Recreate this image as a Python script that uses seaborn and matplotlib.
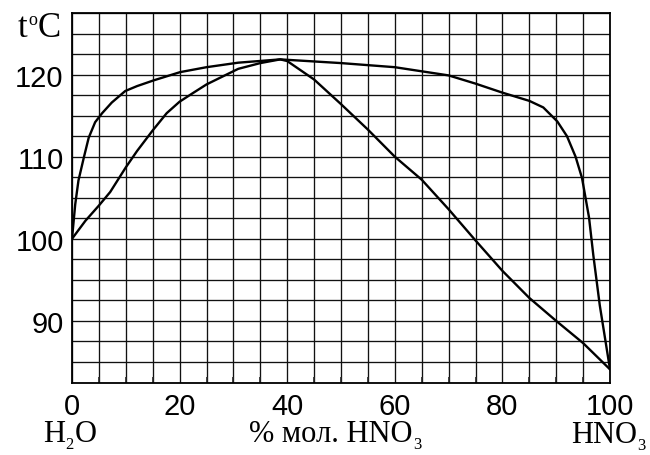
import matplotlib
matplotlib.use("Agg")
import matplotlib.pyplot as plt
from matplotlib.ticker import MultipleLocator
import pandas as pd
import seaborn as sns

# Boiling diagram of the H2O - HNO3 system (mole % HNO3 vs temperature)
liquid_x = [0, 2.5, 5, 7.1, 10, 12.1, 15, 17.6, 20, 22.6, 25, 28.1, 30.9, 35, 38.7,
            40, 45, 50, 55, 60, 65, 70, 75, 80, 85, 90, 95, 100]
liquid_t = [100, 102.2, 104.05, 105.7, 108.7, 110.7, 113.2, 115.3, 116.7, 117.8, 118.8,
            119.8, 120.7, 121.4, 121.85, 121.65, 119.4, 116.4, 113.3, 110.0, 107.2, 103.6,
            99.8, 96.1, 92.8, 90.0, 87.3, 84.1]

vapor_x = [0, 0.6, 1.2, 2.2, 3.1, 4.3, 5.6, 7.4, 9.9, 12.1, 15.2, 20.1, 25, 30.9, 38.7,
           50, 60, 65, 70, 75, 80, 85, 87.6, 90.2, 92, 93.6, 94.8, 96.1, 96.9, 98.1, 100]
vapor_t = [100, 104.2, 107.1, 109.9, 112.3, 114.2, 115.3, 116.6, 118.0, 118.6, 119.3,
           120.3, 120.9, 121.45, 121.85, 121.4, 120.9, 120.4, 119.9, 118.9, 117.8, 116.8,
           116.0, 114.3, 112.5, 110.0, 107.4, 102.6, 98.0, 91.9, 84.1]

x_ticks = [0, 20, 40, 60, 80, 100]
y_ticks = [90, 100, 110, 120]

df = pd.concat([
    pd.DataFrame({"x": liquid_x, "t": liquid_t, "curve": "liquid"}),
    pd.DataFrame({"x": vapor_x, "t": vapor_t, "curve": "vapor"}),
], ignore_index=True)

sns.set_theme(style="white")
plt.rcParams["font.family"] = ["Liberation Sans", "DejaVu Sans"]

W, H = 650, 456
fig = plt.figure(figsize=(W / 100, H / 100), dpi=100)
ax = fig.add_axes([72 / W, 1 - 383.5 / H, 538 / W, 369.5 / H])

sns.lineplot(data=df, x="x", y="t", units="curve", estimator=None, sort=False,
             color="black", linewidth=1.7, ax=ax, legend=False)

ax.set_xlim(0, 100)
ax.set_ylim(82.5, 127.5)
ax.xaxis.set_minor_locator(MultipleLocator(5))
ax.yaxis.set_minor_locator(MultipleLocator(2.5))
ax.set_xticks(x_ticks)
ax.set_yticks(y_ticks)
ax.set_xticklabels([str(v) for v in x_ticks])
ax.set_yticklabels([str(v) for v in y_ticks])

ax.grid(which="both", color="#111111", linewidth=0.95)
ax.set_axisbelow(True)
for s in ax.spines.values():
    s.set_color("black")
    s.set_linewidth(1.3)

ax.tick_params(axis="both", which="major", direction="in", length=5, width=1.4,
               colors="black", labelsize=21)
ax.tick_params(axis="x", which="major", pad=7)
ax.tick_params(axis="y", which="major", pad=6)
ax.tick_params(axis="x", which="minor", direction="in", length=4, width=1.2, bottom=True)
ax.tick_params(axis="y", which="minor", left=False)
ax.set_xlabel("")
ax.set_ylabel("")

serif = ["Liberation Serif", "DejaVu Serif"]
fig.canvas.draw()
renderer = fig.canvas.get_renderer()


def rich_label(x_px, y_px, parts, size=22, small=12, sup_shift=11):
    """Lay out text pieces left to right; 'sub'/'sup' pieces are smaller and shifted."""
    cur = x_px
    for text, kind in parts:
        if kind == "sub":
            fs, dy = small, -7
        elif kind == "sup":
            fs, dy = small, sup_shift
        else:
            fs, dy = size, 0
        t = fig.text(cur / W, 1 - (y_px - dy) / H, text, family=serif, fontsize=fs,
                     ha="left", va="baseline", color="black")
        cur = t.get_window_extent(renderer).x1 + 0.5


rich_label(18, 37, [("t", "base"), ("o", "sup"), ("C", "base")], size=25, small=13,
           sup_shift=12)
rich_label(43, 442, [("H", "base"), ("2", "sub"), ("O", "base")])
rich_label(249, 442, [("% мол. HNO", "base"), ("3", "sub")])
rich_label(571, 443, [("HNO", "base"), ("3", "sub")])

fig.savefig("out.png", dpi=100, facecolor="white")
